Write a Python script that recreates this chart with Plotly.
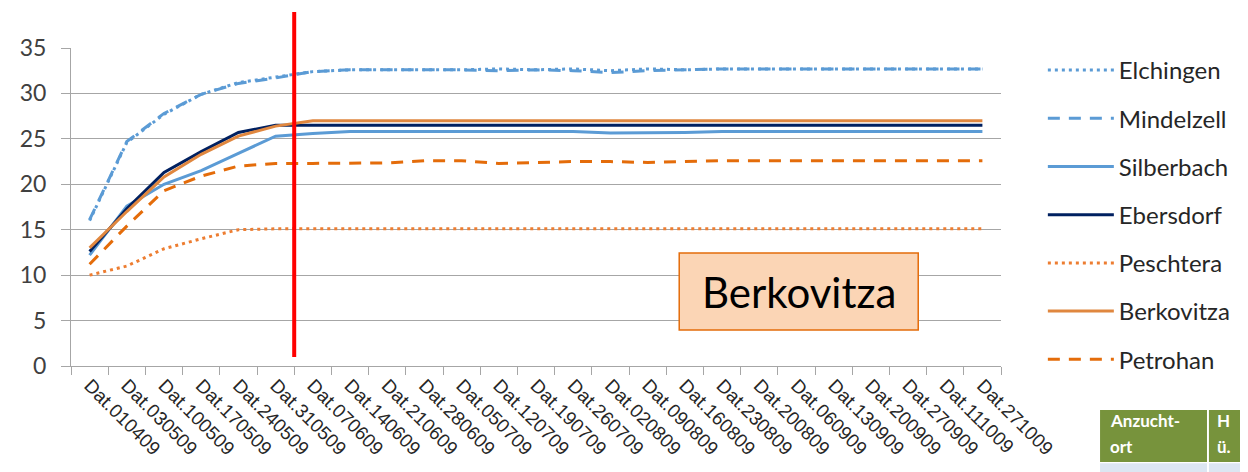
import plotly.graph_objects as go

dates = ["Dat.010409", "Dat.030509", "Dat.100509", "Dat.170509", "Dat.240509",
         "Dat.310509", "Dat.070609", "Dat.140609", "Dat.210609", "Dat.280609",
         "Dat.050709", "Dat.120709", "Dat.190709", "Dat.260709", "Dat.020809",
         "Dat.090809", "Dat.160809", "Dat.230809", "Dat.200809", "Dat.060909",
         "Dat.130909", "Dat.200909", "Dat.270909", "Dat.111009", "Dat.271009"]

elchingen = [16.0, 24.6, 27.7, 29.9, 31.2, 31.8, 32.4, 32.6, 32.6, 32.6, 32.6, 32.7, 32.6,
             32.7, 32.5, 32.7, 32.6, 32.7, 32.7, 32.7, 32.7, 32.7, 32.7, 32.7, 32.7]
mindelzell = [16.1, 24.7, 27.8, 29.9, 31.1, 31.7, 32.4, 32.6, 32.6, 32.6, 32.6, 32.5, 32.6,
              32.5, 32.3, 32.5, 32.6, 32.7, 32.7, 32.7, 32.7, 32.7, 32.7, 32.7, 32.7]
silberbach = [12.2, 17.6, 20.0, 21.5, 23.4, 25.3, 25.6, 25.8, 25.8, 25.8, 25.8, 25.8, 25.8,
              25.8, 25.65, 25.65, 25.7, 25.8, 25.8, 25.8, 25.8, 25.8, 25.8, 25.8, 25.8]
ebersdorf = [12.6, 17.3, 21.3, 23.6, 25.7, 26.5, 26.5, 26.5, 26.5, 26.5, 26.5, 26.5, 26.5,
             26.5, 26.5, 26.5, 26.5, 26.5, 26.5, 26.5, 26.5, 26.5, 26.5, 26.5, 26.5]
peschtera = [10.0, 11.0, 12.9, 14.0, 15.0, 15.1, 15.1, 15.1, 15.1, 15.1, 15.1, 15.1, 15.1,
             15.1, 15.1, 15.1, 15.1, 15.1, 15.1, 15.1, 15.1, 15.1, 15.1, 15.1, 15.1]
berkovitza = [13.0, 17.0, 20.8, 23.3, 25.3, 26.4, 27.0, 27.0, 27.0, 27.0, 27.0, 27.0, 27.0,
              27.0, 27.0, 27.0, 27.0, 27.0, 27.0, 27.0, 27.0, 27.0, 27.0, 27.0, 27.0]
petrohan = [11.2, 15.4, 19.3, 20.9, 22.0, 22.3, 22.3, 22.3, 22.35, 22.6, 22.6, 22.3, 22.4,
            22.5, 22.5, 22.4, 22.5, 22.6, 22.6, 22.6, 22.6, 22.6, 22.6, 22.6, 22.6]

series = [
    ("Elchingen", elchingen, "#5b9bd5", "3px,4px"),
    ("Mindelzell", mindelzell, "#5b9bd5", "12px,9px"),
    ("Silberbach", silberbach, "#5b9bd5", "solid"),
    ("Ebersdorf", ebersdorf, "#002060", "solid"),
    ("Peschtera", peschtera, "#ed7d31", "3px,4px"),
    ("Berkovitza", berkovitza, "#e0873f", "solid"),
    ("Petrohan", petrohan, "#e46c0a", "12px,9px"),
]

fig = go.Figure()
for name, vals, color, dash in series:
    fig.add_trace(go.Scatter(x=dates, y=vals, name=name, mode="lines", legendgroup=name,
                             line=dict(color=color, width=3, dash=dash)))

# red marker line between 310509 and 070609
fig.add_shape(type="line", xref="x", yref="paper", x0=5.5, x1=5.5, y0=0.028, y1=1.113,
              line=dict(color="#ff0000", width=4))

# "Berkovitza" label box
fig.add_shape(type="rect", xref="paper", yref="paper", x0=0.654, x1=0.911, y0=0.113, y1=0.355,
              fillcolor="#fbd5b5", line=dict(color="#e46c0a", width=1.5), layer="above")
fig.add_annotation(text="Berkovitza", xref="paper", yref="paper", x=0.783, y=0.233,
                   xanchor="center", yanchor="middle", showarrow=False,
                   font=dict(family="Lato", size=42, color="#000000"))

# piece of a table in the bottom-right corner
head = "#77933c"
row = "#dce6f2"
fig.add_shape(type="rect", xref="paper", yref="paper", x0=1.1065, x1=1.2215, y0=-0.302, y1=-0.138,
              fillcolor=head, line=dict(width=0), layer="above")
fig.add_shape(type="rect", xref="paper", yref="paper", x0=1.2236, x1=1.30, y0=-0.302, y1=-0.138,
              fillcolor=head, line=dict(width=0), layer="above")
fig.add_shape(type="rect", xref="paper", yref="paper", x0=1.1065, x1=1.2215, y0=-0.36, y1=-0.306,
              fillcolor=row, line=dict(width=0), layer="above")
fig.add_shape(type="rect", xref="paper", yref="paper", x0=1.2236, x1=1.30, y0=-0.36, y1=-0.306,
              fillcolor=row, line=dict(width=0), layer="above")
cells = [("Anzucht-", 1.115, -0.170), ("ort", 1.115, -0.252),
         ("H", 1.230, -0.170), ("ü.", 1.230, -0.252)]
for txt, cx, cy in cells:
    fig.add_annotation(text="<b>" + txt + "</b>", xref="paper", yref="paper", x=cx, y=cy,
                       xanchor="left", yanchor="middle", showarrow=False,
                       font=dict(family="Lato", size=17, color="#ffffff"))

fig.update_xaxes(type="category", range=[-0.5, len(dates) - 0.5],
                 showline=True, linecolor="#a6a6a6", linewidth=1,
                 ticks="outside", tickson="boundaries", ticklen=8, tickcolor="#a6a6a6",
                 showgrid=False, tickangle=45,
                 tickfont=dict(family="Liberation Sans", size=19, color="#262626"))
fig.update_yaxes(range=[0, 35], dtick=5, showgrid=True, gridcolor="#a6a6a6", gridwidth=1,
                 showline=True, linecolor="#a6a6a6", ticks="outside", ticklen=9,
                 tickcolor="#a6a6a6", zeroline=False, ticklabelstandoff=10,
                 tickfont=dict(family="Lato", size=23, color="#404040"))

# the page body adds an 8px margin, so the figure is 8px smaller than the window
fig.update_layout(
    width=1240, height=464,
    margin=dict(l=56, r=236, t=40, b=106),
    plot_bgcolor="#ffffff", paper_bgcolor="#ffffff",
    legend=dict(x=1.045, y=1.0, xanchor="left", yanchor="top", tracegroupgap=14,
                itemwidth=66, maxheight=460, font=dict(family="Lato", size=24, color="#262626"),
                bgcolor="rgba(0,0,0,0)"),
)

fig.write_html("out.html")
